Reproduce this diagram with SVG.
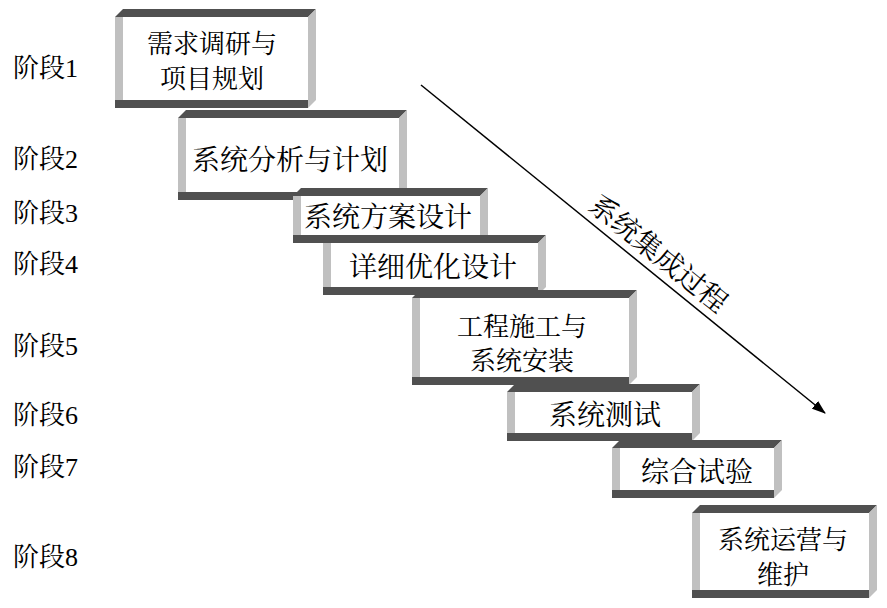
<svg xmlns="http://www.w3.org/2000/svg" width="887" height="608" viewBox="0 0 887 608">
<style>
.dk{fill:#505050}
.lt{fill:#c0c0c0}
.in{fill:#ffffff}
.t{font-family:"Noto Serif CJK SC","Liberation Serif","Noto Sans CJK SC",serif;font-size:28px;fill:#000;text-anchor:middle;dominant-baseline:central}
.t2{font-size:26px}
.lb{font-family:"Liberation Serif","Noto Serif CJK SC","Noto Sans CJK SC",serif;font-size:26px;fill:#000}
</style>
<defs>
<marker id="ah" markerWidth="14" markerHeight="10" refX="13" refY="5" orient="auto" markerUnits="userSpaceOnUse">
<path d="M0,0 L14,5 L0,10 Z" fill="#000"/>
</marker>
</defs>
<rect width="887" height="608" fill="#fff"/>
<g id="labels">
<text class="lb" x="13" y="77">阶段1</text>
<text class="lb" x="13" y="168">阶段2</text>
<text class="lb" x="13" y="222">阶段3</text>
<text class="lb" x="13" y="273">阶段4</text>
<text class="lb" x="13" y="355">阶段5</text>
<text class="lb" x="13" y="424">阶段6</text>
<text class="lb" x="13" y="476">阶段7</text>
<text class="lb" x="13" y="566">阶段8</text>
</g>
<g id="box1">
<polygon class="dk" points="123,9 316,9 308,17 115,17"/>
<rect class="lt" x="115" y="17" width="8" height="83"/>
<polygon class="lt" points="308,17 316,9 316,100 308,108"/>
<rect class="dk" x="115" y="100" width="193" height="8"/>
<rect class="in" x="123" y="17" width="185" height="83"/>
<text class="t t2" x="212" y="41">需求调研与</text>
<text class="t t2" x="212" y="76">项目规划</text>
</g>
<g id="box2">
<polygon class="dk" points="186,110 407,110 399,118 178,118"/>
<rect class="lt" x="178" y="118" width="8" height="74"/>
<polygon class="lt" points="399,118 407,110 407,192 399,200"/>
<rect class="dk" x="178" y="192" width="221" height="8"/>
<rect class="in" x="186" y="118" width="213" height="74"/>
<text class="t" x="290" y="158">系统分析与计划</text>
</g>
<g id="box3">
<polygon class="dk" points="301,188 488,188 480,196 293,196"/>
<rect class="lt" x="293" y="196" width="8" height="39"/>
<polygon class="lt" points="480,196 488,188 488,235 480,243"/>
<rect class="dk" x="293" y="235" width="187" height="8"/>
<rect class="in" x="301" y="196" width="179" height="39"/>
<text class="t" x="388" y="215">系统方案设计</text>
</g>
<g id="box4">
<polygon class="dk" points="331,235 546,235 538,243 323,243"/>
<rect class="lt" x="323" y="243" width="8" height="44"/>
<polygon class="lt" points="538,243 546,235 546,287 538,295"/>
<rect class="dk" x="323" y="287" width="215" height="8"/>
<rect class="in" x="331" y="243" width="207" height="44"/>
<text class="t" x="433" y="265">详细优化设计</text>
</g>
<g id="box5">
<polygon class="dk" points="420,290 637,290 629,298 412,298"/>
<rect class="lt" x="412" y="298" width="8" height="79"/>
<polygon class="lt" points="629,298 637,290 637,377 629,385"/>
<rect class="dk" x="412" y="377" width="217" height="8"/>
<rect class="in" x="420" y="298" width="209" height="79"/>
<text class="t t2" x="522" y="324">工程施工与</text>
<text class="t t2" x="522" y="358">系统安装</text>
</g>
<g id="box6">
<polygon class="dk" points="515,384 700,384 692,392 507,392"/>
<rect class="lt" x="507" y="392" width="8" height="41"/>
<polygon class="lt" points="692,392 700,384 700,433 692,441"/>
<rect class="dk" x="507" y="433" width="185" height="8"/>
<rect class="in" x="515" y="392" width="177" height="41"/>
<text class="t" x="605" y="413">系统测试</text>
</g>
<g id="box7">
<polygon class="dk" points="620,440 782,440 774,448 612,448"/>
<rect class="lt" x="612" y="448" width="8" height="42"/>
<polygon class="lt" points="774,448 782,440 782,490 774,498"/>
<rect class="dk" x="612" y="490" width="162" height="8"/>
<rect class="in" x="620" y="448" width="154" height="42"/>
<text class="t" x="697" y="470">综合试验</text>
</g>
<g id="box8">
<polygon class="dk" points="700,505 877,505 869,513 692,513"/>
<rect class="lt" x="692" y="513" width="8" height="77"/>
<polygon class="lt" points="869,513 877,505 877,590 869,598"/>
<rect class="dk" x="692" y="590" width="177" height="8"/>
<rect class="in" x="700" y="513" width="169" height="77"/>
<text class="t t2" x="783" y="537">系统运营与</text>
<text class="t t2" x="783" y="572">维护</text>
</g>
<g id="connectors">
<line x1="421" y1="85" x2="825" y2="413" stroke="#000" stroke-width="1.5" marker-end="url(#ah)"/>
<text class="t" x="660" y="252" transform="rotate(39 660 252)">系统集成过程</text>
</g>
</svg>
